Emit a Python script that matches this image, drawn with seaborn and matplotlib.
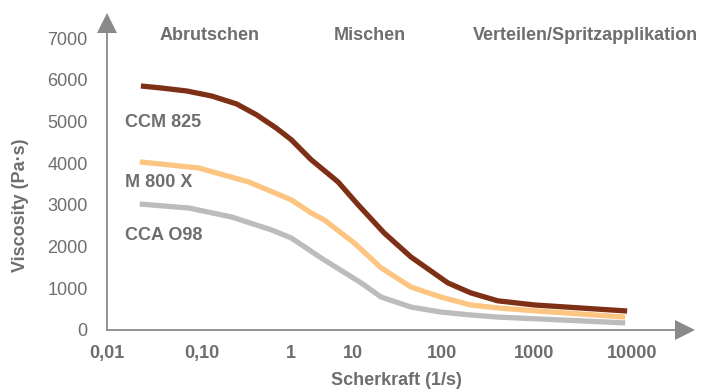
"""Viscosity vs. shear rate curves for three products."""

import matplotlib

matplotlib.use("Agg")
import matplotlib.pyplot as plt
import numpy as np
import pandas as pd
import seaborn as sns

# shear rate (1/s) and viscosity (Pa·s)
SHEAR_CCM = [0.0228, 0.038, 0.0695, 0.129, 0.245, 0.408, 0.68, 1.0, 2.1, 5.7,
             11.4, 22.3, 44.9, 116, 205, 400, 1000, 8890]
VISC_CCM = [5850, 5800, 5730, 5610, 5420, 5160, 4840, 4560, 4080, 3550,
            3000, 2330, 1750, 1130, 890, 700, 600, 455]

SHEAR_M800 = [0.0222, 0.093, 0.333, 1.0, 2.1, 3.4, 10.3, 20.7, 44.9, 97.5,
              205, 400, 1000, 8490]
VISC_M800 = [4030, 3885, 3550, 3120, 2805, 2640, 2085, 1490, 1030, 790,
             600, 530, 460, 310]

SHEAR_CCA = [0.0222, 0.073, 0.215, 0.6, 1.0, 3.05, 12.3, 20.7, 44.9, 97.5,
             205, 400, 1000, 8490]
VISC_CCA = [3020, 2925, 2710, 2400, 2205, 1725, 1130, 790, 550, 430,
            360, 310, 270, 170]

PRODUCTS = ["CCM 825", "M 800 X", "CCA O98"]
COLORS = ["#7e3017", "#fcc581", "#bcbcbc"]

XTICKS = [0.01, 0.1, 1, 10, 100, 1000, 10000]
XTICK_LABELS = ["0,01", "0,10", "1", "10", "100", "1000", "10000"]
YTICKS = [0, 1000, 2000, 3000, 4000, 5000, 6000, 7000]
PHASES = ["Abrutschen", "Mischen", "Verteilen/Spritzapplikation"]

TEXT = "#6e6e6e"
AXIS = "#8a8a8a"

# the original squeezes its decades unevenly, so map log10 piecewise
DECADES = [-3, -2, -1, 0, 1, 2, 3, 4, 5]
DECADE_POS = [10, 105, 200, 290, 352, 441, 534, 632, 730]


def fwd(x):
    lx = np.log10(np.clip(np.asarray(x, dtype=float), 1e-9, None))
    return np.interp(lx, DECADES, DECADE_POS)


def inv(p):
    return 10 ** np.interp(np.asarray(p, dtype=float), DECADE_POS, DECADES)


df = pd.concat(
    [
        pd.DataFrame({"shear": SHEAR_CCM, "visc": VISC_CCM, "product": PRODUCTS[0]}),
        pd.DataFrame({"shear": SHEAR_M800, "visc": VISC_M800, "product": PRODUCTS[1]}),
        pd.DataFrame({"shear": SHEAR_CCA, "visc": VISC_CCA, "product": PRODUCTS[2]}),
    ],
    ignore_index=True,
)

sns.set_theme(style="white")
plt.rcParams["font.family"] = ["Liberation Sans", "DejaVu Sans"]

fig = plt.figure(figsize=(7.05, 3.92), dpi=100)
ax = fig.add_axes([107 / 705, 62 / 392, 568 / 705, 297 / 392])
ax.set_xscale("function", functions=(fwd, inv))

sns.lineplot(
    data=df, x="shear", y="visc", hue="product", hue_order=PRODUCTS,
    palette=COLORS, linewidth=3.8, legend=False, sort=False, ax=ax,
)
# brown on top, grey at the back
for z, line in zip([4, 3, 2], ax.lines):
    line.set_zorder(z)
    line.set_solid_capstyle("butt")

ax.set_xlim(inv(107), inv(675))
ax.set_ylim(0, 7120)
ax.set_xticks(XTICKS)
ax.set_xticklabels(XTICK_LABELS)
ax.xaxis.set_minor_locator(matplotlib.ticker.NullLocator())
ax.set_yticks(YTICKS)
ax.set_yticklabels([str(v) for v in YTICKS])

ax.tick_params(axis="y", length=0, pad=14, labelsize=13, labelcolor=TEXT)
ax.tick_params(axis="x", length=0, pad=11, labelsize=13, labelcolor=TEXT)
for lbl in ax.get_xticklabels():
    lbl.set_fontweight("bold")

for side in ("top", "right"):
    ax.spines[side].set_visible(False)
for side in ("left", "bottom"):
    ax.spines[side].set_color(AXIS)
    ax.spines[side].set_linewidth(1.3)

# arrow heads
ax.plot([0], [1.034], marker="^", ms=15, mew=0, color=AXIS,
        transform=ax.transAxes, clip_on=False)
ax.plot([1.0176], [0], marker=">", ms=15, mew=0, color=AXIS,
        transform=ax.transAxes, clip_on=False)

ax.set_ylabel("Viscosity (Pa·s)", fontsize=13, fontweight="bold", color=TEXT)
ax.yaxis.set_label_coords(-0.137, 0.42)
ax.set_xlabel("Scherkraft (1/s)", fontsize=13, fontweight="bold", color=TEXT)
ax.xaxis.set_label_coords(0.51, -0.14)

for x, name in zip([0.18, 0.463, 0.842], PHASES):
    ax.text(x, 0.993, name, transform=ax.transAxes, ha="center", va="center",
            fontsize=13, fontweight="bold", color=TEXT)

for y, name in zip([0.70, 0.495, 0.3165], PRODUCTS):
    ax.text(0.0317, y, name, transform=ax.transAxes, ha="left", va="center",
            fontsize=13, fontweight="bold", color=TEXT)

fig.savefig("out.png", dpi=100)
plt.close(fig)
